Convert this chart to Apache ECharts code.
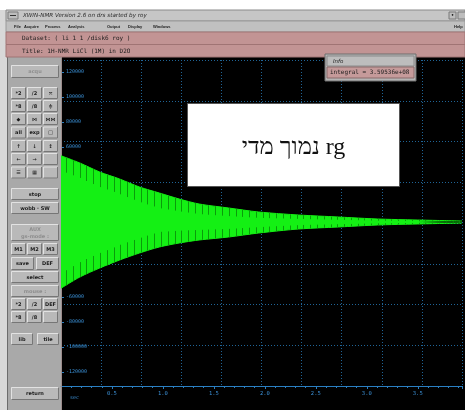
<!DOCTYPE html>
<html><head><meta charset="utf-8">
<script src="https://cdn.jsdelivr.net/npm/echarts@6/dist/echarts.min.js"></script>
<style>html,body{margin:0;padding:0;background:#fff}#c{width:465px;height:410px}</style>
</head><body><div id="c"></div>
<script>
// ---------- data ----------
const envTime  = [0, 0.185, 0.38, 0.575, 0.77, 0.965, 1.16, 1.355, 1.645, 1.94, 2.33, 2.72, 3.105, 3.495, 3.934];
const envUpper = [53000, 47200, 40000, 34400, 28000, 23200, 18400, 14400, 11200, 8000, 5600, 4000, 2400, 1600, 800];
const envLower = [-53000, -44000, -36800, -30400, -24800, -20000, -16800, -14400, -12000, -8800, -5600, -4000, -2400, -1600, -800];
const notchTimes = [0.05, 0.117, 0.183, 0.25, 0.316, 0.383, 0.449, 0.516, 0.582, 0.649, 0.715, 0.782, 0.848, 0.915, 0.981,
  1.048, 1.114, 1.181, 1.247, 1.314, 1.38, 1.447, 1.513, 1.58, 1.646, 1.713, 1.779, 1.846, 1.912, 1.979, 2.045, 2.112,
  2.178, 2.245, 2.311, 2.378, 2.444, 2.511, 2.577, 2.644, 2.71, 2.777, 2.843, 2.91, 2.976, 3.043, 3.109, 3.176, 3.242,
  3.309, 3.375, 3.442, 3.508, 3.575, 3.641, 3.708, 3.774, 3.841, 3.907];
const yTickValues = [120000, 100000, 80000, 60000, -60000, -80000, -100000, -120000];
const xUnit = 'sec';
const windowTitle = 'XWIN-NMR Version 2.6 on drs started by roy';
const menuItems = ['File', 'Acquire', 'Process', 'Analysis', 'Output', 'Display', 'Windows'];
const datasetText = 'Dataset: ( li 1 1 /disk6 roy )';
const titleText = 'Title: 1H-NMR LiCl (1M) in D2O';
const infoTitle = 'Info';
const infoText = 'integral = 3.59536e+08';
const noteText = '\u202Brg נמוך מדי\u202C';

// ---------- layout ----------
const menuX = [14, 24, 45, 68, 107, 128, 153];
const G = [];
function rect(x, y, w, h, fill, stroke, z) {
  G.push({type: 'rect', shape: {x: x, y: y, width: w, height: h},
    style: {fill: fill, stroke: stroke || null, lineWidth: stroke ? 1 : 0}, z: z == null ? 1 : z, silent: true});
}
function line(x1, y1, x2, y2, c, z) {
  G.push({type: 'line', shape: {x1: x1, y1: y1, x2: x2, y2: y2}, style: {stroke: c, lineWidth: 1}, z: z == null ? 2 : z, silent: true});
}
function text(x, y, t, o) {
  const st = Object.assign({text: t, fill: '#151515', font: '6px "DejaVu Sans"', textAlign: 'left', textVerticalAlign: 'middle', verticalAlign: 'middle'}, o || {});
  G.push({type: 'text', x: x, y: y, style: st, z: (o && o.z) || 6, silent: true});
}
function button(x, y, w, h, t, dis, lh) {
  rect(x, y, w, h, '#b9b9b9', null, 3);
  G.push({type: 'polyline', shape: {points: [[x + 0.5, y + h - 0.5], [x + 0.5, y + 0.5], [x + w - 0.5, y + 0.5]]}, style: {stroke: '#e2e2e2', fill: null, lineWidth: 1}, z: 4, silent: true});
  G.push({type: 'polyline', shape: {points: [[x + w - 0.5, y + 0.5], [x + w - 0.5, y + h - 0.5], [x + 0.5, y + h - 0.5]]}, style: {stroke: '#767676', fill: null, lineWidth: 1}, z: 4, silent: true});
  if (t) text(x + w / 2, y + h / 2 + 0.5, t, {textAlign: 'center', align: 'center', fill: dis ? '#8e8e8e' : '#1a1a1a', font: 'bold 5px "DejaVu Sans"', lineHeight: lh || 7});
}

// window frame
rect(0, 10, 7, 400, '#d8d8d8', null, 0);
line(7.5, 10, 7.5, 410, '#6c6c6c', 1);
// title bar
rect(6, 10, 459, 11, '#c6c6c6', '#8a8a8a', 1);
rect(8, 12, 10, 7, '#bdbdbd', '#7a7a7a', 2);
line(10, 15.5, 16, 15.5, '#333', 3);
text(23, 15.7, windowTitle, {font: 'italic 5.6px "DejaVu Sans"', fill: '#2a2a2a'});
rect(449, 12, 7, 7, '#bdbdbd', '#7a7a7a', 2);
text(452.5, 15.5, '•', {textAlign: 'center', align: 'center', font: '6px "DejaVu Sans"'});
rect(458, 12, 8, 7, '#bdbdbd', '#7a7a7a', 2);
// menu bar
rect(6, 21, 459, 11, '#c0c0c0', '#9a9a9a', 1);
menuItems.forEach(function (m, i) { text(menuX[i], 26.8, m, {font: 'bold 4px "Liberation Sans"', fill: '#202020'}); });
text(454, 26.8, 'Help', {font: 'bold 4px "Liberation Sans"', fill: '#202020'});
// pink bars
rect(6, 32, 459, 12.5, '#c29494', '#a07474', 1);
text(22, 38.5, datasetText, {font: '6px "DejaVu Sans Mono"', fill: '#1c1c1c'});
rect(6, 44.5, 459, 12.5, '#c29494', '#a07474', 1);
text(22, 51, titleText, {font: '6px "DejaVu Sans Mono"', fill: '#1c1c1c'});
// left control panel
rect(8, 57, 53, 353, '#a9a9a9', null, 0);
line(61.5, 57, 61.5, 410, '#9c8c8c', 2);
button(11, 65, 48, 13, 'acqu', true);
const cols = [11, 27, 43];
const gridRows = [
  [87, ['*2', '/2', '≍']],
  [100, ['*8', '/8', '≑']],
  [113, ['◆', '⋈', '⋈⋈']],
  [126.5, ['all', 'exp', '□']],
  [140, ['↑', '↓', '↕']],
  [153, ['←', '→', '']],
  [166.5, ['☰', '▦', '']]
];
gridRows.forEach(function (r) { r[1].forEach(function (t, i) { button(cols[i], r[0], 15, 12, t, false); }); });
button(11, 188, 48, 12, 'stop', false);
button(11, 202, 48, 12, 'wobb · SW', false);
button(11, 224, 48, 17, 'AUX\ngs-mode :', true, 6.5);
['M1', 'M2', 'M3'].forEach(function (t, i) { button(cols[i], 243, 15, 12, t, false); });
button(11, 257, 23, 13, 'save', false);
button(36, 257, 23, 13, 'DEF', false);
button(11, 271, 48, 12, 'select', false);
button(11, 285, 48, 12, 'mouse :', true);
['*2', '/2', 'DEF'].forEach(function (t, i) { button(cols[i], 298, 15, 12, t, false); });
['*8', '/8', ''].forEach(function (t, i) { button(cols[i], 311, 15, 12, t, false); });
button(11, 333, 22, 12, 'lib', false);
button(37, 333, 22, 12, 'tile', false);
button(11, 387, 48, 13, 'return', false);
// plot background
rect(62, 57, 403, 353, '#000000', null, -5);
text(70, 397.5, xUnit, {font: '5px "DejaVu Sans Mono"', fill: '#3b90d6'});
// info box
rect(325, 54, 91, 27, '#b4b4b4', '#6e6e6e', 100);
rect(327, 56, 87, 10, '#bdbdbd', '#8a8a8a', 101);
text(333, 61.3, infoTitle, {font: 'italic 5.5px "DejaVu Sans"', fill: '#222', z: 102});
rect(327, 67, 87, 11, '#c59a9a', '#8a6a6a', 101);
text(330, 72.7, infoText, {font: '6px "DejaVu Sans Mono"', fill: '#1c1c1c', z: 102});
// note box
rect(187.5, 103.5, 212, 83, '#ffffff', '#555555', 100);
text(293.5, 148, noteText, {textAlign: 'center', align: 'center', font: '24px "Liberation Serif", "DejaVu Serif", serif', fill: '#111', z: 102});

function interp(arr, t) {
  for (let i = 1; i < envTime.length; i++) {
    if (t <= envTime[i]) {
      const f = (t - envTime[i - 1]) / (envTime[i] - envTime[i - 1]);
      return arr[i - 1] + f * (arr[i] - arr[i - 1]);
    }
  }
  return arr[arr.length - 1];
}

const GREEN = '#14f014';
const DOT = '#1f6496';
const BLUE = '#3b90d6';
const chart = echarts.init(document.getElementById('c'), null, {renderer: 'canvas'});
chart.setOption({
  animation: false,
  backgroundColor: '#ffffff',
  grid: {left: 61, top: 60, width: 404, height: 326},
  xAxis: [
    {type: 'value', min: 0, max: 3.934, interval: 0.5, position: 'bottom',
      axisLine: {show: true, onZero: false, lineStyle: {color: '#2a7fc2', width: 1}},
      axisTick: {show: true, length: 3, lineStyle: {color: '#2a7fc2'}},
      minorTick: {show: true, splitNumber: 5, length: 2, lineStyle: {color: '#2a7fc2'}},
      axisLabel: {color: BLUE, fontSize: 5.5, fontFamily: 'DejaVu Sans Mono', margin: 5,
        formatter: function (v) { return (v > 0 && Math.abs(v * 2 - Math.round(v * 2)) < 1e-6) ? v.toFixed(1) : ''; }},
      splitLine: {show: false}, minorSplitLine: {show: false}},
    {type: 'value', min: 0, max: 10, interval: 1, position: 'top',
      axisLine: {show: false}, axisTick: {show: false}, axisLabel: {show: false},
      splitLine: {show: true, lineStyle: {color: DOT, type: [1, 2], width: 1}}}
  ],
  yAxis: [
    {type: 'value', min: -131200, max: 129600, position: 'left',
      axisLine: {show: false},
      axisTick: {show: true, inside: true, length: 3, customValues: yTickValues, lineStyle: {color: '#2a7fc2'}},
      axisLabel: {inside: true, margin: 5, color: BLUE, fontSize: 5, fontFamily: 'DejaVu Sans Mono', customValues: yTickValues,
        formatter: function (v) { return String(v); }},
      splitLine: {show: false}},
    {type: 'value', min: 0, max: 8, interval: 1, position: 'right',
      axisLine: {show: false}, axisTick: {show: false}, axisLabel: {show: false},
      splitLine: {show: true, lineStyle: {color: DOT, type: [1, 2], width: 1}}}
  ],
  series: [
    {type: 'line', xAxisIndex: 0, yAxisIndex: 0, data: envTime.map(function (t, i) { return [t, envUpper[i]]; }),
      smooth: 0.3, symbol: 'none', lineStyle: {color: GREEN, width: 1}, areaStyle: {origin: 0, color: GREEN, opacity: 1}, z: 3},
    {type: 'line', xAxisIndex: 0, yAxisIndex: 0, data: envTime.map(function (t, i) { return [t, envLower[i]]; }),
      smooth: 0.3, symbol: 'none', lineStyle: {color: GREEN, width: 1}, areaStyle: {origin: 0, color: GREEN, opacity: 1}, z: 3},
    {type: 'custom', xAxisIndex: 0, yAxisIndex: 0, z: 4, silent: true,
      data: notchTimes.map(function (t) { return [t]; }),
      renderItem: function (params, api) {
        const t = api.value(0);
        const pTop = api.coord([t, interp(envUpper, t)]);
        const pBot = api.coord([t, interp(envLower, t)]);
        const h = pBot[1] - pTop[1];
        const d = Math.min(15, h * 0.28);
        const x = Math.round(pTop[0]) + 0.5;
        return {type: 'group', children: [
          {type: 'line', shape: {x1: x, y1: pTop[1], x2: x, y2: pTop[1] + d}, style: {stroke: '#0a9c0a', lineWidth: 1}},
          {type: 'line', shape: {x1: x, y1: pBot[1] - d, x2: x, y2: pBot[1]}, style: {stroke: '#0a9c0a', lineWidth: 1}}
        ]};
      }}
  ],
  graphic: {elements: G}
});
</script>
</body></html>
